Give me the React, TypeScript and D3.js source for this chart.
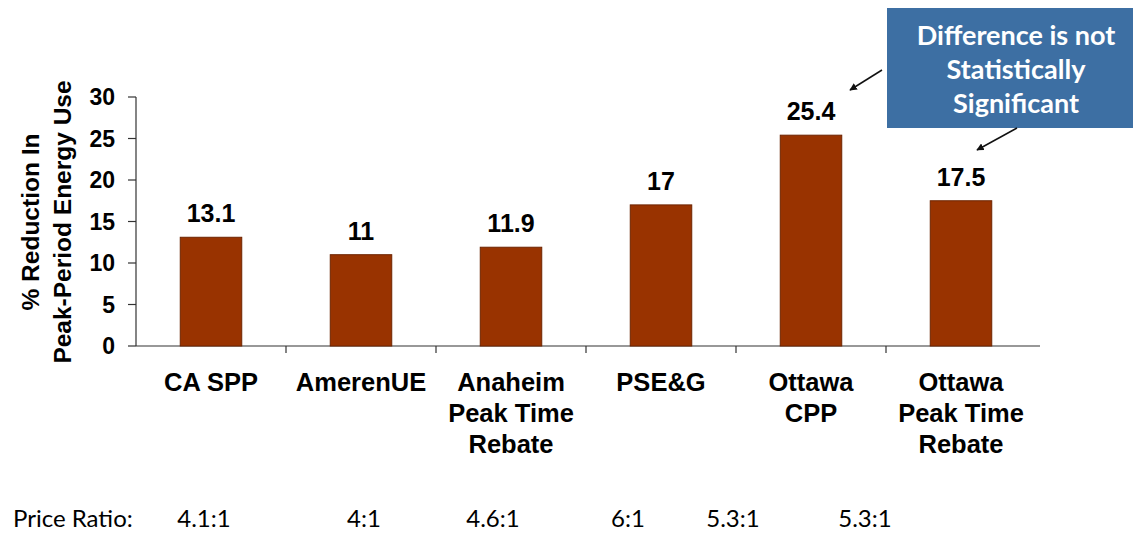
import React from "react";
import * as d3 from "d3";

const categories = [
  ["CA SPP"],
  ["AmerenUE"],
  ["Anaheim", "Peak Time", "Rebate"],
  ["PSE&G"],
  ["Ottawa", "CPP"],
  ["Ottawa", "Peak Time", "Rebate"],
];
const reductions = [13.1, 11, 11.9, 17, 25.4, 17.5];
const valueLabels = ["13.1", "11", "11.9", "17", "25.4", "17.5"];
const yTicks = [0, 5, 10, 15, 20, 25, 30];
const priceRatios = ["4.1:1", "4:1", "4.6:1", "6:1", "5.3:1", "5.3:1"];
const calloutLines = ["Difference is not", "Statistically", "Significant"];

const W = 1133;
const H = 536;
const left = 136;
const right = 1036;
const top = 97;
const bottom = 346;

export default function App() {
  const keys = categories.map((_, i) => String(i));
  const x = d3.scaleBand().domain(keys).range([left, right]).paddingInner(0.59).paddingOuter(0.295);
  const y = d3.scaleLinear().domain([0, 30]).range([bottom, top]);
  const step = (right - left) / categories.length;
  const bold = "'Liberation Sans', Arial, sans-serif";
  const calibri = "Lato, 'Open Sans', sans-serif";
  // x positions of the price ratio row, one per category
  const ratioX = [204, 364, 493, 628, 733, 865];

  return (
    <svg width={W} height={H} style={{ position: "absolute", left: 0, top: 0, background: "#fff" }}>
      <defs>
        <marker id="ah" viewBox="0 0 10 10" refX="9" refY="5" markerWidth="5" markerHeight="5" orient="auto">
          <path d="M0,0 L10,5 L0,10 z" fill="#111" />
        </marker>
      </defs>
      {/* y axis */}
      <line x1={left} x2={left} y1={top} y2={bottom} stroke="#333" strokeWidth={1.2} />
      {yTicks.map((t) => (
        <g key={t}>
          <line x1={left - 8} x2={left} y1={y(t)} y2={y(t)} stroke="#333" strokeWidth={1.2} />
          <text x={115} y={y(t)} dy="0.36em" textAnchor="end" fontFamily={bold} fontWeight="bold" fontSize={23} fill="#000">
            {t}
          </text>
        </g>
      ))}
      {/* x axis */}
      <line x1={left} x2={right + 4} y1={bottom} y2={bottom} stroke="#333" strokeWidth={1.2} />
      {keys.map((k, i) =>
        i > 0 ? (
          <line key={k} x1={left + step * i} x2={left + step * i} y1={bottom} y2={bottom + 7} stroke="#333" strokeWidth={1.2} />
        ) : null
      )}
      {/* y title */}
      <g transform={`translate(0,222) rotate(-90)`}>
        <text x={0} y={39} textAnchor="middle" fontFamily={bold} fontWeight="bold" fontSize={24.5}>
          % Reduction In
        </text>
        <text x={0} y={71} textAnchor="middle" fontFamily={bold} fontWeight="bold" fontSize={24.5}>
          Peak-Period Energy Use
        </text>
      </g>
      {/* bars */}
      {reductions.map((v, i) => (
        <g key={i}>
          <rect
            x={x(keys[i])!}
            y={y(v)}
            width={x.bandwidth()}
            height={y(0) - y(v)}
            fill="#993300"
            stroke="#6e2400"
            strokeWidth={1}
          />
          <text
            x={x(keys[i])! + x.bandwidth() / 2}
            y={y(v) - 15}
            textAnchor="middle"
            fontFamily={bold}
            fontWeight="bold"
            fontSize={25}
          >
            {valueLabels[i]}
          </text>
        </g>
      ))}
      {/* category labels */}
      {categories.map((lines, i) => (
        <text key={i} textAnchor="middle" fontFamily={bold} fontWeight="bold" fontSize={25.5}>
          {lines.map((l, j) => (
            <tspan key={j} x={x(keys[i])! + x.bandwidth() / 2} y={391 + j * 31}>
              {l}
            </tspan>
          ))}
        </text>
      ))}
      {/* price ratio row */}
      <text x={13} y={527} fontFamily={calibri} fontSize={24} fill="#000">
        Price Ratio:
      </text>
      {priceRatios.map((r, i) => (
        <text key={i} x={ratioX[i]} y={527} textAnchor="middle" fontFamily={calibri} fontSize={24}>
          {r}
        </text>
      ))}
      {/* callout */}
      <rect x={887} y={8} width={250} height={120} fill="#3d6fa3" />
      {calloutLines.map((l, j) => (
        <text key={j} x={1016} y={45 + j * 34} textAnchor="middle" fontFamily={calibri} fontWeight="bold" fontSize={27} fill="#fff">
          {l}
        </text>
      ))}
      <line x1={882} y1={70} x2={850} y2={90} stroke="#111" strokeWidth={1.5} markerEnd="url(#ah)" />
      <line x1={1017} y1={128} x2={977} y2={150} stroke="#111" strokeWidth={1.5} markerEnd="url(#ah)" />
    </svg>
  );
}
